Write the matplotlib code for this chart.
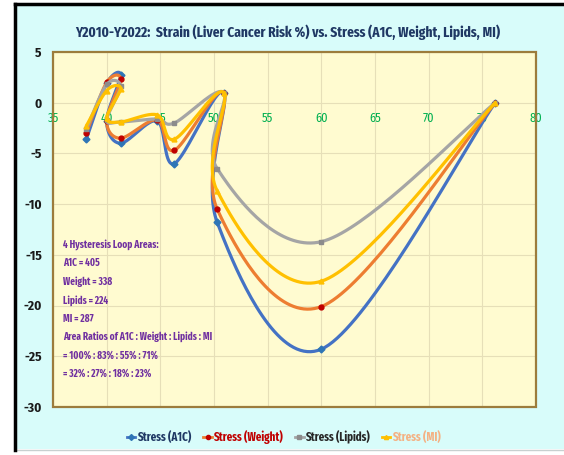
import numpy as np
import matplotlib
matplotlib.use("Agg")
import matplotlib.pyplot as plt
from matplotlib.patches import Rectangle
from matplotlib.lines import Line2D
from matplotlib import font_manager

# ---------------- data ----------------
stress_x = [38.1, 40.0, 41.3, 40.0, 41.3, 44.7, 46.3, 50.9, 50.3, 60.0, 76.2]
strain_a1c = [-3.6, 1.9, 2.7, -1.8, -4.0, -1.8, -6.0, 1.0, -11.8, -24.3, 0.0]
strain_weight = [-3.0, 2.0, 2.3, -1.8, -3.5, -1.7, -4.7, 1.0, -10.5, -20.1, 0.0]
strain_lipids = [-2.6, 1.8, 1.6, -1.7, -1.9, -1.6, -2.0, 1.0, -6.5, -13.7, 0.0]
strain_mi = [-2.3, 1.2, 1.4, -1.5, -1.9, -1.2, -3.6, 1.0, -8.7, -17.6, 0.0]

series_names = ["Stress (A1C)", "Stress (Weight)", "Stress (Lipids)", "Stress (MI)"]
x_ticks = [35, 40, 45, 50, 55, 60, 65, 70, 75, 80]
y_ticks = [5, 0, -5, -10, -15, -20, -25, -30]
title = "Y2010-Y2022:  Strain (Liver Cancer Risk %) vs. Stress (A1C, Weight, Lipids, MI)"
note_lines = ["4 Hysteresis Loop Areas:", "A1C = 405", "Weight = 338", "Lipids = 224",
              "MI = 287", "Area Ratios of A1C : Weight : Lipids : MI",
              "= 100% : 83% : 55% : 71%", "= 32% : 27% : 18% : 23%"]

# ---------------- style ----------------
names = {f.name for f in font_manager.fontManager.ttflist}
FONT = next((n for n in ["Fira Sans Condensed", "Carlito"] if n in names), "DejaVu Sans")
NARROW = next((n for n in ["Fira Sans Extra Condensed", "Fira Sans Condensed", "Carlito"] if n in names), "DejaVu Sans")
plt.rcParams['font.family'] = [FONT, 'DejaVu Sans']

line_colors = ["#4472c4", "#ed7d31", "#a5a5a5", "#ffc000"]
marker_colors = ["#2e75b6", "#c00000", "#8c8c8c", "#ffc000"]
markers = ["D", "o", "s", "^"]
label_colors = ["#1f3864", "#c00000", "#262626", "#f4b183"]


def smooth(xs, ys, n=40):
    """Excel-like smooth (Catmull-Rom Bezier) through the points."""
    P = np.column_stack([xs, ys]).astype(float)
    P = np.vstack([P[0], P, P[-1]])
    out = []
    t = np.linspace(0, 1, n)[:, None]
    for i in range(1, len(P) - 2):
        p0, p1, p2, p3 = P[i - 1], P[i], P[i + 1], P[i + 2]
        c1 = p1 + (p2 - p0) / 6.0
        c2 = p2 - (p3 - p1) / 6.0
        seg = ((1 - t) ** 3) * p1 + 3 * ((1 - t) ** 2) * t * c1 + 3 * (1 - t) * t ** 2 * c2 + t ** 3 * p2
        out.append(seg if i == 1 else seg[1:])
    out = np.vstack(out)
    return out[:, 0], out[:, 1]


fig = plt.figure(figsize=(5.64, 4.55), dpi=100)
fig.patch.set_facecolor("white")
fig.patches.append(Rectangle((15 / 564, 1 - 449 / 455), 1 - 15 / 564, (449 - 5) / 455,
                             transform=fig.transFigure, facecolor="#d8fcfa",
                             edgecolor="none", zorder=-2))
fig.lines.append(Line2D([15 / 564, 1], [1 - 449.5 / 455, 1 - 449.5 / 455],
                        transform=fig.transFigure, color="#c8d0d0", lw=1))
fig.lines.append(Line2D([15 / 564, 15 / 564], [1 - 450 / 455, 1 - 4 / 455],
                        transform=fig.transFigure, color="black", lw=2.5))
fig.lines.append(Line2D([15 / 564, 1], [1 - 4 / 455, 1 - 4 / 455],
                        transform=fig.transFigure, color="black", lw=2.5))

ax = fig.add_axes([53 / 564, 1 - 407 / 455, (536 - 53) / 564, (407 - 52) / 455])
ax.set_facecolor("#fffbd0")
ax.set_xlim(35, 80)
ax.set_ylim(-30, 5)
ax.grid(True, color="#e6dfb8", lw=0.8)
ax.set_axisbelow(True)

ys_all = [strain_a1c, strain_weight, strain_lipids, strain_mi]
for k, ys in enumerate(ys_all):
    sx, sy = smooth(stress_x, ys)
    ax.plot(sx, sy, color=line_colors[k], lw=2.3, zorder=3 + k, solid_capstyle="round")
    ax.plot(stress_x, ys, ls="none", marker=markers[k], ms=3.5,
            color=marker_colors[k], zorder=3 + k)

for s in ax.spines.values():
    s.set_visible(False)
ax.spines['bottom'].set_position(('data', 0))
ax.add_patch(Rectangle((0, 0), 1, 1, transform=ax.transAxes, fill=False,
                       edgecolor="#9c7c3c", lw=1.6, zorder=10, clip_on=False))
ax.set_xticks(x_ticks)
ax.set_xticklabels([str(v) for v in x_ticks], color="#00b050", fontsize=9)
ax.set_yticks(y_ticks)
ax.set_yticklabels([str(v) for v in y_ticks], fontsize=9.5, fontweight="bold", color="#1a1a1a")
ax.tick_params(axis="both", length=0)
ax.tick_params(axis="x", pad=7)
ax.tick_params(axis="y", pad=8)

fig.text(288 / 564, 1 - 32 / 455, title, ha="center", va="center", fontsize=10.5,
         fontweight="bold", color="#1f3864", family=[NARROW, 'DejaVu Sans'])

for i, line in enumerate(note_lines):
    fig.text(63 / 564, 1 - (245 + i * 18.4) / 455, line, ha="left", va="center",
             fontsize=7.3, fontweight="bold", color="#7030a0", family=[NARROW, 'DejaVu Sans'])

handles = [Line2D([0], [0], color=line_colors[k], lw=2, marker=markers[k], ms=3,
                  markerfacecolor=marker_colors[k], markeredgecolor=marker_colors[k])
           for k in range(4)]
fig.legend(handles, series_names, loc="center", bbox_to_anchor=(284 / 564, 1 - 437 / 455),
           ncol=4, frameon=False, handlelength=0.7, handletextpad=0.15, columnspacing=1.0,
           labelcolor=label_colors, prop={"family": NARROW, "weight": "bold", "size": 8.6})

fig.savefig("out.png", dpi=100, facecolor=fig.get_facecolor())
